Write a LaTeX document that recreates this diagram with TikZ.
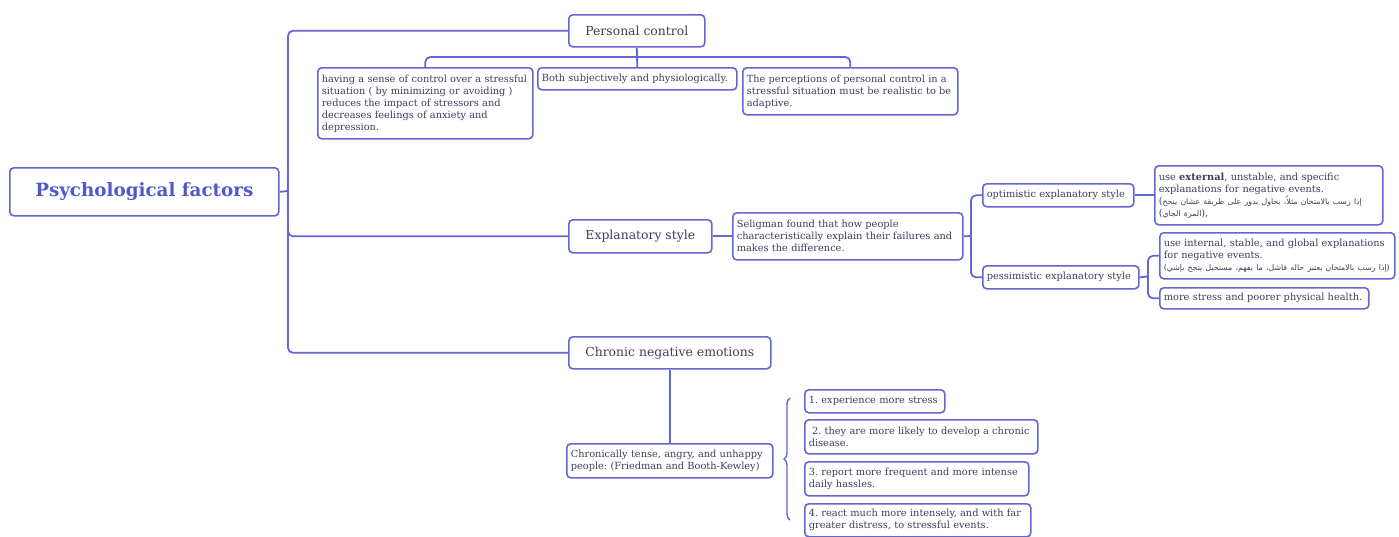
\documentclass[tikz,border=0pt]{standalone}
\usepackage{fontspec}
\setmainfont{DejaVu Serif}
\newfontfamily\arabicfont[Script=Arabic]{DejaVu Sans}
\usetikzlibrary{decorations.pathreplacing}
\TeXXeTstate=1
\frenchspacing
\definecolor{mapline}{RGB}{100,102,212}
\definecolor{maptext}{RGB}{62,62,92}
\definecolor{roottext}{RGB}{82,88,204}
\newcommand{\mapsmall}{\fontsize{9.8}{12}\selectfont}
\newcommand{\maptopic}{\fontsize{12.4}{14}\selectfont}
\newcommand{\maparab}[1]{{\arabicfont\fontsize{7.8}{12}\selectfont\beginR #1\endR}}
\tikzset{
    link/.style={draw=mapline, line width=1.8pt, rounded corners=5pt},
    box/.style={draw=mapline, line width=1.6pt, rounded corners=4pt, fill=white,
        text=maptext, font=\mapsmall, align=left, anchor=north west,
        inner xsep=4pt, inner ysep=3pt},
    topic/.style={box, font=\maptopic, align=center},
    rootbox/.style={box, font=\fontsize{18.3}{20}\selectfont\bfseries,
        text=roottext, align=center}
}

\begin{document}
\frenchspacing
\begin{tikzpicture}[x=1pt, y=-1pt]
	\useasboundingbox (0,0) rectangle (1399,536);
	% main branches
	\node (root) [rootbox, minimum width=269pt, minimum height=48pt] at (9,167) {Psychological factors};
	\node (pc) [topic, minimum width=136pt, minimum height=32pt] at (568,14) {Personal control};
	\node (es) [topic, minimum width=143pt, minimum height=33pt] at (568,219) {Explanatory style};
	\node (cne) [topic, minimum width=202pt, minimum height=32pt] at (568,336) {Chronic negative emotions};
	
	% personal control
	\node (pc1) [box, text width=207pt, minimum height=71pt] at (317,67) {having a sense of control over a stressful\\ situation ( by minimizing or avoiding )\\ reduces the impact of stressors and\\ decreases feelings of anxiety and\\ depression.};
	\node (pc2) [box, text width=191pt, minimum height=22pt] at (537,67) {Both subjectively and physiologically.};
	\node (pc3) [box, text width=207pt, minimum height=47pt] at (742,67) {The perceptions of personal control in a\\ stressful situation must be realistic to be\\ adaptive.};
	
	% explanatory style
	\node (sel) [box, text width=222pt, minimum height=47pt] at (732,212) {Seligman found that how people\\ characteristically explain their failures and\\ makes the difference.};
	\node (opt) [box, text width=143pt, minimum height=23pt] at (982,183) {optimistic explanatory style};
	\node (pess) [box, text width=148pt, minimum height=23pt] at (982,265) {pessimistic explanatory style};
	\node (optd) [box, text width=220pt, minimum height=59pt] at (1154,165) {use \textbf{external}, unstable, and specific\\ explanations for negative events.\\ (\maparab{إذا رسب بالامتحان مثلاً، بحاول بدور على طريقة عشان ينجح}\\ (\maparab{المرة الجاي}),};
	\node (pessd1) [box, text width=227pt, minimum height=46pt] at (1159,232) {use internal, stable, and global explanations\\ for negative events.\\ \maparab{(إذا رسب بالامتحان يعتبر حاله فاشل، ما بفهم، مستحيل ينجح بإشي)}};
	\node (pessd2) [box, text width=201pt, minimum height=21pt] at (1159,287) {more stress and poorer physical health.};
	
	% chronic negative emotions
	\node (chr) [box, text width=198pt, minimum height=34pt] at (566,443) {Chronically tense, angry, and unhappy\\ people: (Friedman and Booth-Kewley)};
	\node (n1) [box, text width=132pt, minimum height=23pt] at (804,389) {1. experience more stress};
	\node (n2) [box, text width=225pt, minimum height=34pt] at (804,419) {\ 2. they are more likely to develop a chronic\\ disease.};
	\node (n3) [box, text width=216pt, minimum height=34pt] at (804,461) {3. report more frequent and more intense\\ daily hassles.};
	\node (n4) [box, text width=218pt, minimum height=33pt] at (804,503) {4. react much more intensely, and with far\\ greater distress, to stressful events.};
	
	\coordinate (sp) at (288,191);
	\coordinate (pcbar) at (636,57);
	\coordinate (esfork) at (971,236);
	\coordinate (pfork) at (1148,276.5);
	\coordinate (brtop) at (790,398);
	\coordinate (brbot) at (790,520);
	
	\draw[link] (root.east) -- (sp);
	\draw[link] (pc.west) -| (sp) |- (cne.west);
	\draw[link] (sp) |- (es.west);
	
	\draw[link] (pc.south) -- (pc2.north);
	\draw[link] (pc1.north) |- (pcbar) -| (pc3.north);
	
	\draw[link] (es.east) -- (sel.west);
	\draw[link] (sel.east) -- (esfork);
	\draw[link] (opt.west) -| (esfork) |- (pess.west);
	\draw[link] (opt.east) -- (optd.west);
	\draw[link] (pess.east) -- (pfork);
	\draw[link] (pessd1.west) -| (pfork) |- (pessd2.west);
	
	\draw[link] (cne.south) -- (chr.north);
	\draw[draw=mapline, line width=1.4pt, decorate, decoration={brace, amplitude=6pt}] (brbot) -- (brtop);
\end{tikzpicture}
\end{document}
